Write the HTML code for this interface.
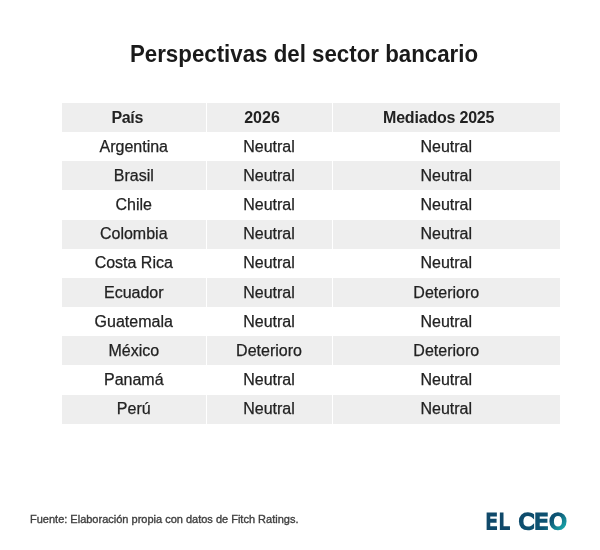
<!DOCTYPE html>
<html lang="es"><head><meta charset="utf-8"><title>Perspectivas del sector bancario</title>
<style>
html,body{margin:0;padding:0;background:#fff;}
body{width:600px;height:550px;position:relative;overflow:hidden;font-family:"Liberation Sans",Arial,sans-serif;color:#222;}
h1{position:absolute;left:4px;top:40px;width:600px;margin:0;text-align:center;font-size:23.7px;line-height:28px;font-weight:bold;color:#1a1a1a;white-space:nowrap;transform:scaleX(0.941);transform-origin:50% 50%;}
table{position:absolute;left:62px;top:103px;width:498px;border-collapse:collapse;table-layout:fixed;font-size:16px;}
col.c1{width:144px}col.c2{width:126px}col.c3{width:228px}
tr{height:29.17px}
td{-webkit-text-stroke:0.25px #222}
td,th{padding:0;text-align:center;vertical-align:middle;line-height:20px;white-space:nowrap;border-left:1.5px solid #fff;}
td:first-child,th:first-child{border-left:0}
th{font-weight:bold;color:#222;}
th span{position:relative;left:-7px}
tr.g td,tr.g th{background:#eee}
#src{position:absolute;left:30px;top:512px;font-size:11px;line-height:14px;color:#404040;-webkit-text-stroke:0.35px #404040;white-space:nowrap;}
#logo{position:absolute;left:470px;top:500px;overflow:visible}
</style></head><body>
<h1 id="title">Perspectivas del sector bancario</h1>
<table>
<colgroup><col class="c1"><col class="c2"><col class="c3"></colgroup>
<thead><tr class="g"><th><span style="letter-spacing:-0.3px;left:-6.5px">País</span></th><th><span>2026</span></th><th><span style="letter-spacing:-0.2px;left:-7.6px">Mediados 2025</span></th></tr></thead>
<tbody>
<tr><td><span>Argentina</span></td><td><span>Neutral</span></td><td><span>Neutral</span></td></tr>
<tr class="g"><td><span>Brasil</span></td><td><span>Neutral</span></td><td><span>Neutral</span></td></tr>
<tr><td><span>Chile</span></td><td><span>Neutral</span></td><td><span>Neutral</span></td></tr>
<tr class="g"><td><span>Colombia</span></td><td><span>Neutral</span></td><td><span>Neutral</span></td></tr>
<tr><td><span>Costa Rica</span></td><td><span>Neutral</span></td><td><span>Neutral</span></td></tr>
<tr class="g"><td><span>Ecuador</span></td><td><span>Neutral</span></td><td><span>Deterioro</span></td></tr>
<tr><td><span>Guatemala</span></td><td><span>Neutral</span></td><td><span>Neutral</span></td></tr>
<tr class="g"><td><span>México</span></td><td><span>Deterioro</span></td><td><span>Deterioro</span></td></tr>
<tr><td><span>Panamá</span></td><td><span>Neutral</span></td><td><span>Neutral</span></td></tr>
<tr class="g"><td><span>Perú</span></td><td><span>Neutral</span></td><td><span>Neutral</span></td></tr>
</tbody></table>
<div id="src">Fuente: Elaboración propia con datos de Fitch Ratings.</div>
<svg id="logo" width="120" height="40" viewBox="470 500 120 40" role="img" aria-label="EL CEO">
<title>EL CEO</title>
<defs><linearGradient id="lg" gradientUnits="userSpaceOnUse" x1="-8" y1="-8" x2="21" y2="21"><stop offset="0" stop-color="#0f4a6a"/><stop offset="0.66" stop-color="#0d5373"/><stop offset="1" stop-color="#19a2a8"/></linearGradient></defs>
<g text-rendering="geometricPrecision" font-family="DejaVu Sans, Liberation Sans, sans-serif" font-size="21.1" stroke-width="2.1" stroke-linejoin="miter">
<text id="tEL" transform="translate(485.75 528.65) scale(0.865 1)" x="0 15.45" fill="#10496a" stroke="#10496a">EL</text>
<text id="tCEO" transform="translate(518.65 528.65) scale(1.05 1)" x="0 14.95 29.25" fill="url(#lg)" stroke="url(#lg)">CEO</text>
</g>
</svg>
</body></html>
